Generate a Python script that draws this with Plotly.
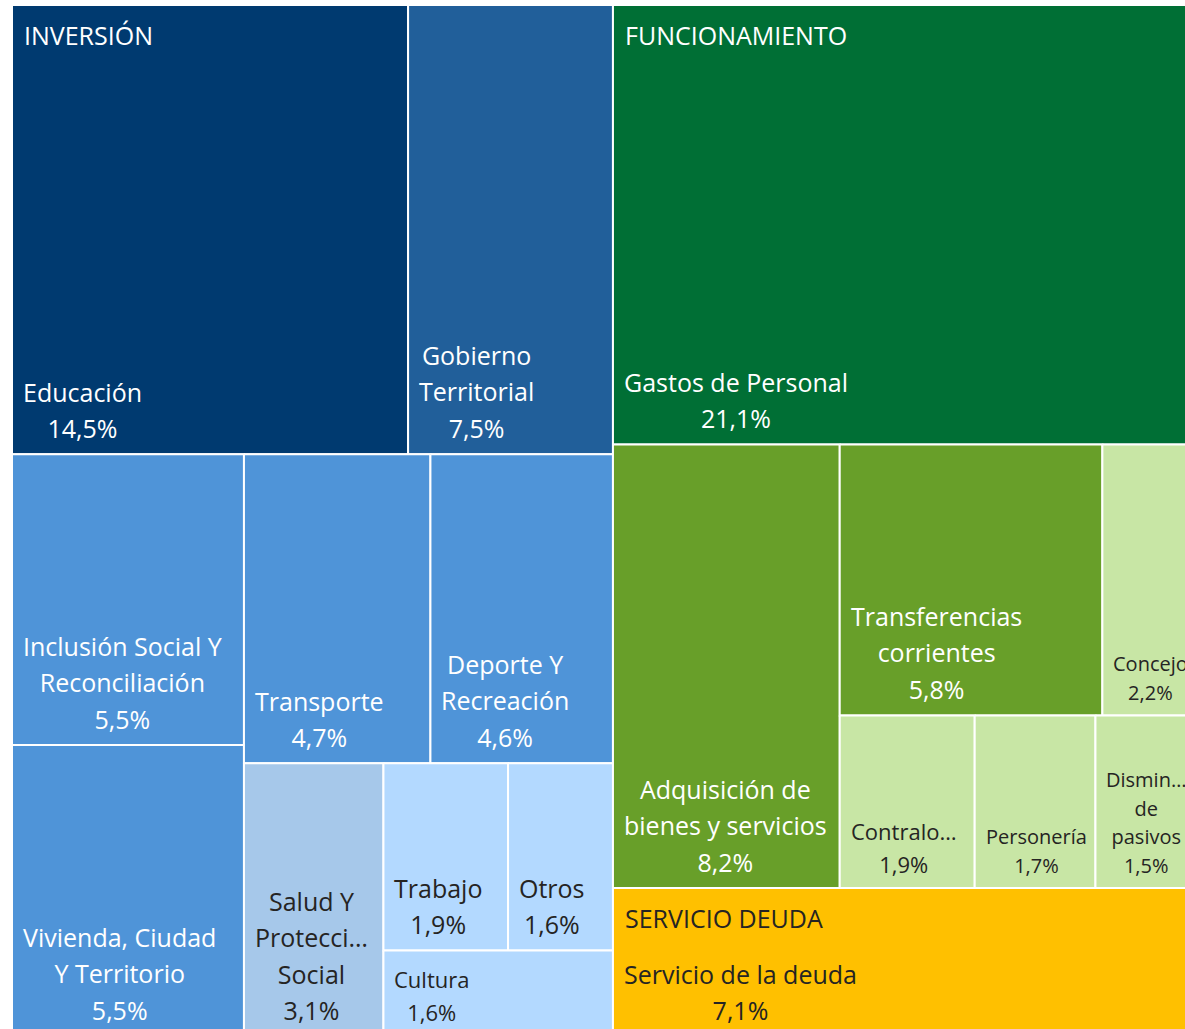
import plotly.graph_objects as go

# ---------------- data ----------------
groups = ["INVERSIÓN", "FUNCIONAMIENTO", "SERVICIO DEUDA"]

inv_labels = ["Educación", "Gobierno Territorial", "Inclusión Social Y Reconciliación",
              "Vivienda, Ciudad Y Territorio", "Transporte", "Deporte Y Recreación",
              "Salud Y Protección Social", "Trabajo", "Otros", "Cultura"]
inv_text = ["Educación", "Gobierno<br>Territorial", "Inclusión Social Y<br>Reconciliación",
            "Vivienda, Ciudad<br>Y Territorio", "Transporte", "Deporte Y<br>Recreación",
            "Salud Y<br>Protecci…<br>Social", "Trabajo", "Otros", "Cultura"]
inv_values = [14.5, 7.5, 5.5, 5.5, 4.7, 4.6, 3.1, 1.9, 1.6, 1.6]

fun_labels = ["Gastos de Personal", "Adquisición de bienes y servicios",
              "Transferencias corrientes", "Concejo", "Contraloría", "Personería",
              "Disminución de pasivos"]
fun_text = ["Gastos de Personal", "Adquisición de<br>bienes y servicios",
            "Transferencias<br>corrientes", "Concejo", "Contralo…", "Personería",
            "Dismin…<br>de<br>pasivos"]
fun_values = [21.1, 8.2, 5.8, 2.2, 1.9, 1.7, 1.5]

deu_labels = ["Servicio de la deuda"]
deu_text = ["Servicio de la deuda"]
deu_values = [7.1]

# ---------------- styles ----------------
inv_colors = ["#003A70", "#215F9A", "#4F94D8", "#4F94D8", "#4F94D8", "#4F94D8",
              "#A6C8EA", "#B3D9FF", "#B3D9FF", "#B3D9FF"]
fun_colors = ["#006F35", "#689F29", "#689F29", "#C8E6A5", "#C8E6A5", "#C8E6A5", "#C8E6A5"]
deu_colors = ["#FFC000"]

WHITE, DARK = "#FFFFFF", "#252423"
inv_font = [WHITE] * 6 + [DARK] * 4
fun_font = [WHITE] * 3 + [DARK] * 4
deu_font = [DARK]
group_font = [WHITE, WHITE, DARK]

inv_size = [25, 25, 25, 25, 25, 25, 25, 25, 25, 22]
fun_size = [25, 25, 25, 20, 22, 20, 20]
deu_size = [25]

FONT = "Segoe UI, Open Sans, sans-serif"
LINE_GAP = 1.12                  # extra line height factor for labels
W_PX, H_PX = 1190, 1031          # drawing area (px)
TARGET_ASPECT = 0.75             # preferred tile width/height


def squarify(values, x, y, w, h, target=TARGET_ASPECT):
    """Squarified treemap layout; returns (x0, y0, x1, y1) for each value (y downwards)."""
    order = sorted(range(len(values)), key=lambda i: -values[i])
    vals = [values[i] for i in order]
    out = [None] * len(values)
    i = 0
    while i < len(vals):
        scale = w * h / sum(vals[i:])
        horiz = w <= h
        side = w if horiz else h

        def score(row):
            thick = sum(row) * scale / side
            worst = 0.0
            for v in row:
                length = v * scale / thick
                a = (length / thick) if horiz else (thick / length)
                worst = max(worst, a / target, target / a)
            return worst

        j = i + 1
        best = score(vals[i:j])
        while j < len(vals):
            s = score(vals[i:j + 1])
            if s > best:
                break
            best = s
            j += 1
        thick = sum(vals[i:j]) * scale / side
        pos = 0.0
        for t in range(i, j):
            length = vals[t] * scale / thick
            if horiz:
                out[order[t]] = (x + pos, y, x + pos + length, y + thick)
            else:
                out[order[t]] = (x, y + pos, x + thick, y + pos + length)
            pos += length
        if horiz:
            y += thick
            h -= thick
        else:
            x += thick
            w -= thick
        i = j
    return out


def pct(v):
    return f"{v:.1f}".replace(".", ",") + "%"


def label_html(txt, v, fs):
    lines = (txt + "<br>" + pct(v)).split("<br>")
    return "<br>".join(f"<span style='font-size:{fs}px'>{ln}</span>" for ln in lines)


group_children = [
    (inv_labels, inv_text, inv_values, inv_colors, inv_font, inv_size),
    (fun_labels, fun_text, fun_values, fun_colors, fun_font, fun_size),
    (deu_labels, deu_text, deu_values, deu_colors, deu_font, deu_size),
]
group_totals = [sum(g[2]) for g in group_children]
group_rects = squarify(group_totals, 0, 0, W_PX, H_PX)

fig = go.Figure()
annotations = []
for gi, (labs, txts, vals, cols, fcols, fsizes) in enumerate(group_children):
    gx0, gy0, gx1, gy1 = group_rects[gi]
    rects = squarify(vals, gx0, gy0, gx1 - gx0, gy1 - gy0)
    for lab, txt, v, col, fc, fs, (x0, y0, x1, y1) in zip(labs, txts, vals, cols, fcols, fsizes, rects):
        fig.add_trace(go.Scatter(
            x=[x0, x1, x1, x0, x0], y=[y0, y0, y1, y1, y0],
            mode="lines", fill="toself", fillcolor=col,
            line=dict(color="white", width=2),
            hoveron="fills", hoverinfo="text",
            text=f"{groups[gi]} – {lab}: {pct(v)}",
            showlegend=False,
        ))
        annotations.append(dict(
            x=x0, y=y1, xref="x", yref="y", xanchor="left", yanchor="bottom",
            text=label_html(txt, v, fs), align="center", showarrow=False,
            xshift=9, yshift=7,
            font=dict(family=FONT, size=round(fs * LINE_GAP), color=fc),
        ))
    annotations.append(dict(
        x=gx0, y=gy0, xref="x", yref="y", xanchor="left", yanchor="top",
        text=groups[gi], align="left", showarrow=False,
        xshift=10, yshift=-11, font=dict(family=FONT, size=25, color=group_font[gi]),
    ))

fig.update_layout(
    width=W_PX + 12, height=H_PX + 5,
    margin=dict(l=12, t=5, r=0, b=0),
    paper_bgcolor="white", plot_bgcolor="white",
    xaxis=dict(range=[0, W_PX], visible=False, fixedrange=True),
    yaxis=dict(range=[H_PX, 0], visible=False, fixedrange=True),
    annotations=annotations,
    showlegend=False,
)

fig.write_html("out.html", config={"displayModeBar": False}, post_script=(
    "document.documentElement.style.overflow='hidden';"
    "document.body.style.overflow='hidden';"
    "document.body.style.margin='0';"))
